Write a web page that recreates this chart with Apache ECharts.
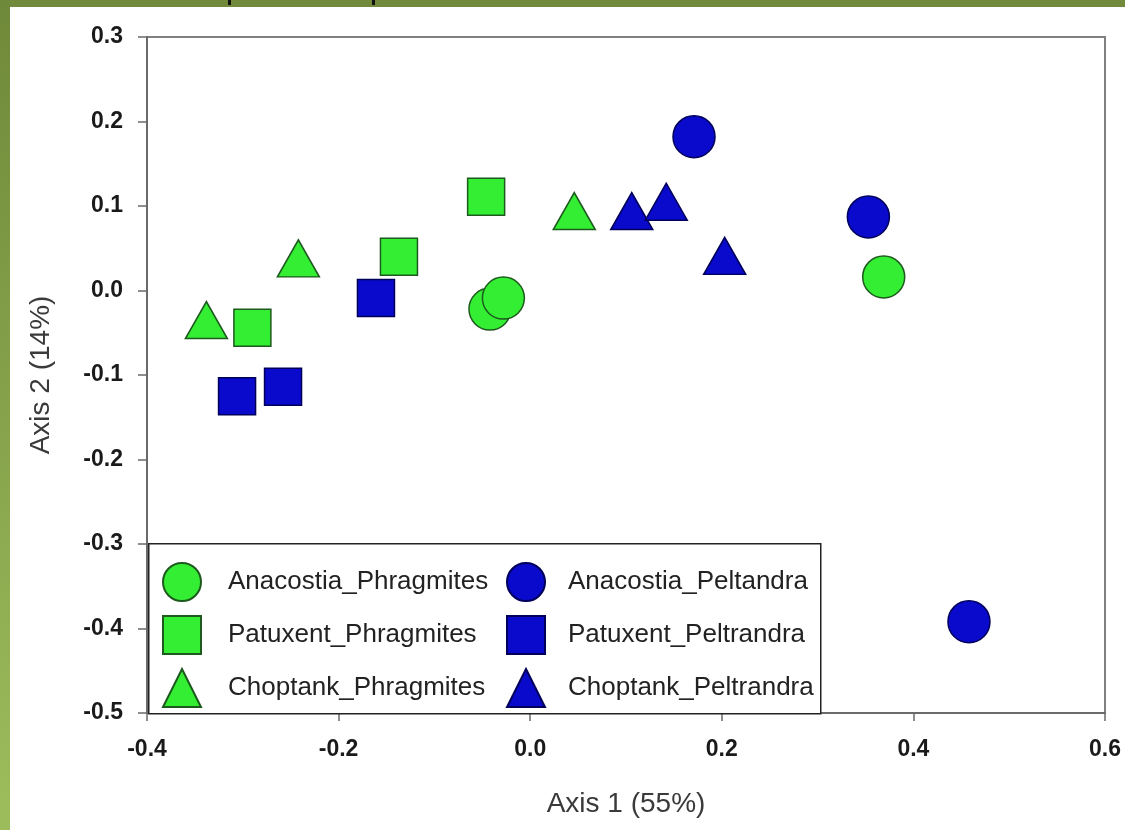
<!DOCTYPE html>
<html>
<head>
<meta charset="utf-8">
<script src="https://cdn.jsdelivr.net/npm/echarts@6/dist/echarts.min.js"></script>
<style>
html,body{margin:0;padding:0;background:#fff;}
#c{width:1125px;height:830px;}
</style>
</head>
<body>
<div id="c"></div>
<script>
// ---- data ----
var xTicks = [-0.4, -0.2, 0.0, 0.2, 0.4, 0.6];
var yTicks = [-0.5, -0.4, -0.3, -0.2, -0.1, 0.0, 0.1, 0.2, 0.3];
var anacostiaPhragmites = [[-0.042, -0.022], [-0.028, -0.009], [0.369, 0.016]];
var anacostiaPeltandra  = [[0.171, 0.182], [0.353, 0.087], [0.458, -0.392]];
var patuxentPhragmites  = [[-0.046, 0.111], [-0.137, 0.040], [-0.290, -0.044]];
var patuxentPeltrandra  = [[-0.161, -0.009], [-0.258, -0.114], [-0.306, -0.125]];
var choptankPhragmites  = [[-0.338, -0.035], [-0.242, 0.038], [0.046, 0.094]];
var choptankPeltrandra  = [[0.106, 0.094], [0.142, 0.105], [0.203, 0.041]];

var GREEN = '#33ee33', GREEN_B = '#1d5a1d';
var BLUE = '#0a0acc', BLUE_B = '#00005a';
var FONT = 'Liberation Sans, Arial, sans-serif';

function sc(name, data, symbol, size, fill, border) {
  return {
    name: name, type: 'scatter', data: data, symbol: symbol, symbolSize: size,
    itemStyle: {color: fill, borderColor: border, borderWidth: 1.5, opacity: 1},
    emphasis: {disabled: true}
  };
}

var chart = echarts.init(document.getElementById('c'), null, {renderer: 'canvas'});
chart.setOption({
  animation: false,
  backgroundColor: '#ffffff',
  grid: {left: 147, right: 20, top: 37, bottom: 117, show: true, borderColor: '#808080', borderWidth: 2, backgroundColor: 'transparent'},
  xAxis: {
    type: 'value', min: xTicks[0], max: xTicks[xTicks.length - 1], interval: 0.2,
    name: 'Axis 1 (55%)', nameLocation: 'middle', nameGap: 77,
    nameTextStyle: {fontFamily: FONT, fontSize: 28, color: '#3a3a3a'},
    axisLine: {onZero: false, lineStyle: {color: '#6a6a6a', width: 2}},
    axisTick: {length: 8, lineStyle: {color: '#6a6a6a', width: 1.5}},
    axisLabel: {margin: 25, fontFamily: FONT, fontSize: 23, fontWeight: 'bold', color: '#1a1a1a',
      formatter: function (v) { return v.toFixed(1); }},
    splitLine: {show: false}
  },
  yAxis: {
    type: 'value', min: yTicks[0], max: yTicks[yTicks.length - 1], interval: 0.1,
    name: 'Axis 2 (14%)', nameLocation: 'middle', nameGap: 92,
    nameTextStyle: {fontFamily: FONT, fontSize: 28, color: '#3a3a3a'},
    axisLine: {onZero: false, lineStyle: {color: '#6a6a6a', width: 2}},
    axisTick: {length: 9, lineStyle: {color: '#6a6a6a', width: 1.5}},
    axisLabel: {margin: 24, fontFamily: FONT, fontSize: 23, fontWeight: 'bold', color: '#1a1a1a',
      formatter: function (v) { return v.toFixed(1); }},
    splitLine: {show: false}
  },
  legend: [{
    orient: 'vertical', left: 157, top: 557, itemWidth: 38, itemHeight: 38, itemGap: 13,
    textStyle: {fontFamily: FONT, fontSize: 26, color: '#222', padding: [0, 0, 0, 22]}, selectedMode: false,
    data: ['Anacostia_Phragmites', 'Patuxent_Phragmites', 'Choptank_Phragmites']
  }, {
    orient: 'vertical', left: 501, top: 557, itemWidth: 38, itemHeight: 38, itemGap: 13,
    textStyle: {fontFamily: FONT, fontSize: 26, color: '#222', padding: [0, 0, 0, 18]}, selectedMode: false,
    data: ['Anacostia_Peltandra', 'Patuxent_Peltrandra', 'Choptank_Peltrandra']
  }],
  graphic: [
    {type: 'rect', left: 0, top: 0, shape: {width: 1125, height: 7}, style: {fill: '#728a3c'}, z: 100},
    {type: 'rect', left: 0, top: 0, shape: {width: 10, height: 830},
      style: {fill: new echarts.graphic.LinearGradient(0, 0, 0, 1, [{offset: 0, color: '#6f893a'}, {offset: 1, color: '#9dbd5c'}])}, z: 100},
    {type: 'rect', left: 228, top: 0, shape: {width: 3, height: 5}, style: {fill: '#111'}, z: 101},
    {type: 'rect', left: 372, top: 0, shape: {width: 3, height: 5}, style: {fill: '#111'}, z: 101},
    {type: 'rect', left: 148, top: 543, shape: {width: 672, height: 170}, style: {fill: '#fff', stroke: '#222', lineWidth: 1.5}, z: 3}
  ],
  series: [
    sc('Anacostia_Phragmites', anacostiaPhragmites, 'circle', 42, GREEN, GREEN_B),
    sc('Anacostia_Peltandra', anacostiaPeltandra, 'circle', 42, BLUE, BLUE_B),
    sc('Patuxent_Phragmites', patuxentPhragmites, 'rect', 37, GREEN, GREEN_B),
    sc('Patuxent_Peltrandra', patuxentPeltrandra, 'rect', 37, BLUE, BLUE_B),
    sc('Choptank_Phragmites', choptankPhragmites, 'triangle', [42, 37], GREEN, GREEN_B),
    sc('Choptank_Peltrandra', choptankPeltrandra, 'triangle', [42, 37], BLUE, BLUE_B)
  ]
});
</script>
</body>
</html>
